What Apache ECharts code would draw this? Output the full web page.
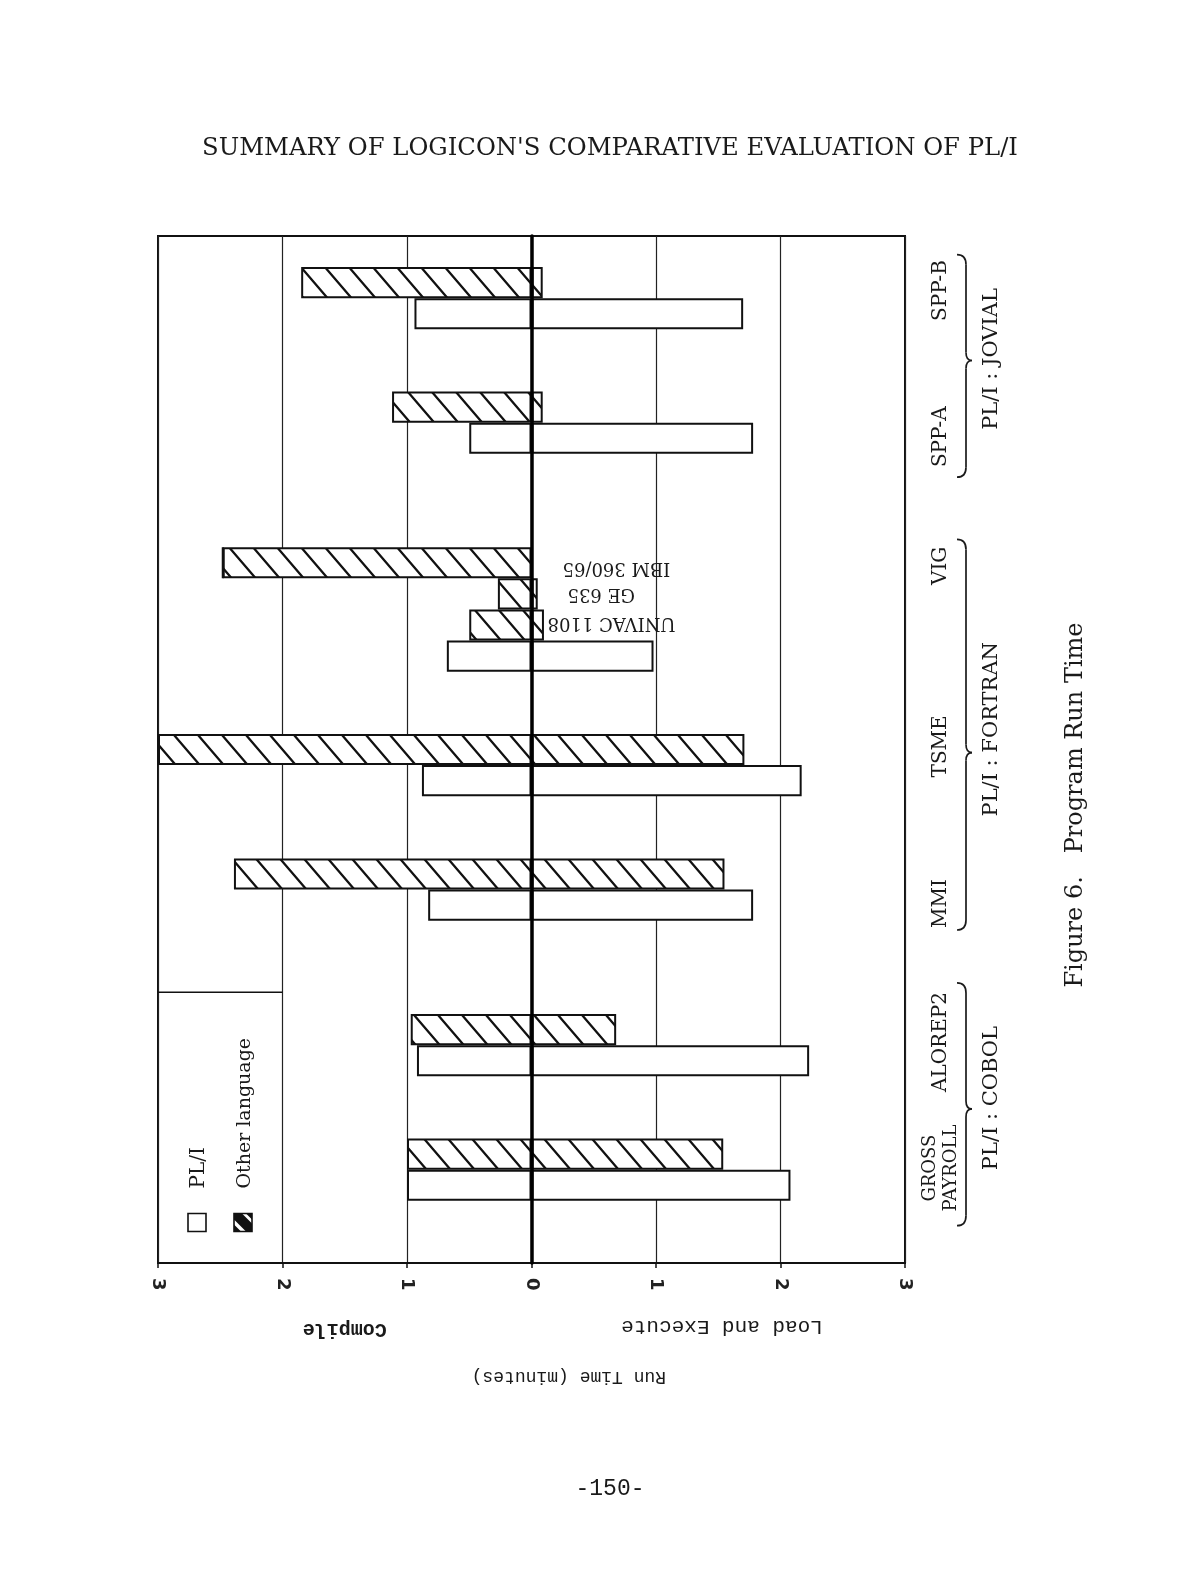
<!DOCTYPE html>
<html>
<head>
    <meta charset="utf-8">
    <title>Figure 6. Program Run Time</title>
    <script src="https://cdn.jsdelivr.net/npm/echarts@6/dist/echarts.min.js"></script>
</head>
<body style="margin: 0; background: #fff">
<div id="container" style="width: 1178px; height: 1587px"></div>
<script>
    // rows of the chart from top to bottom, gapN rows are empty spacers
    var rowKeys = [
        'gap0', 'SPP-B:other', 'SPP-B:PL/I', 'gap1', 'gap2',
        'SPP-A:other', 'SPP-A:PL/I', 'gap3', 'gap4', 'gap5',
        'VIG:IBM 360/65', 'VIG:GE 635', 'VIG:UNIVAC 1108', 'VIG:PL/I', 'gap6', 'gap7',
        'TSME:other', 'TSME:PL/I', 'gap8', 'gap9',
        'MMI:other', 'MMI:PL/I', 'gap10', 'gap11', 'gap12',
        'ALOREP2:other', 'ALOREP2:PL/I', 'gap13', 'gap14',
        'GROSS PAYROLL:other', 'GROSS PAYROLL:PL/I', 'gap15', 'gap16'
    ];

    // PL/I run times (minutes)
    var plRows = ['SPP-B:PL/I', 'SPP-A:PL/I', 'VIG:PL/I', 'TSME:PL/I', 'MMI:PL/I', 'ALOREP2:PL/I', 'GROSS PAYROLL:PL/I'];
    var plCompile = [0.94, 0.50, 0.68, 0.88, 0.83, 0.92, 1.00];
    var plExecute = [1.70, 1.78, 0.98, 2.17, 1.78, 2.23, 2.08];

    // other language run times (minutes)
    var otherRows = ['SPP-B:other', 'SPP-A:other', 'VIG:IBM 360/65', 'VIG:GE 635', 'VIG:UNIVAC 1108',
        'TSME:other', 'MMI:other', 'ALOREP2:other', 'GROSS PAYROLL:other'];
    var otherCompile = [1.85, 1.12, 2.48, 0.27, 0.50, 3.00, 2.39, 0.97, 1.00];
    var otherExecute = [0.09, 0.09, 0.00, 0.05, 0.10, 1.71, 1.55, 0.68, 1.54];

    var machineRows = ['VIG:IBM 360/65', 'VIG:GE 635', 'VIG:UNIVAC 1108'];
    var machineNames = ['IBM 360/65', 'GE 635', 'UNIVAC 1108'];

    var programNames = ['SPP-B', 'SPP-A', 'VIG', 'TSME', 'MMI', 'ALOREP2', 'GROSS\nPAYROLL'];
    var languageNames = ['PL/I : JOVIAL', 'PL/I : FORTRAN', 'PL/I : COBOL'];

    var SERIF = 'DejaVu Serif';
    var MONO = 'Liberation Mono';

    // diagonal hatching for the "other language" bars
    function makeHatch() {
        var w = 24, h = 28;
        var c = document.createElement('canvas');
        c.width = w; c.height = h;
        var g = c.getContext('2d');
        g.fillStyle = '#fff';
        g.fillRect(0, 0, w, h);
        g.strokeStyle = '#111';
        g.lineWidth = 2.3;
        g.beginPath();
        g.moveTo(-w * 0.1, -h * 0.1); g.lineTo(w * 1.1, h * 1.1);
        g.moveTo(-w * 0.1, h * 0.9); g.lineTo(w * 0.1, h * 1.1);
        g.moveTo(w * 0.9, -h * 0.1); g.lineTo(w * 1.1, h * 0.1);
        g.stroke();
        return c;
    }
    var hatch = {image: makeHatch(), repeat: 'repeat'};

    function rowData(keys, vals, sign) {
        return rowKeys.map(function (k) {
            var i = keys.indexOf(k);
            return i < 0 ? '-' : sign * vals[i];
        });
    }

    var plStyle = {color: '#fff', borderColor: '#111', borderWidth: 2};
    var otherStyle = {color: hatch, borderColor: '#111', borderWidth: 2};

    var myChart = echarts.init(document.getElementById('container'));

    var option = {
        backgroundColor: '#fff',
        animation: false,
        grid: {
            left: 158, top: 236, width: 747, height: 1027,
            show: true, borderColor: '#111', borderWidth: 2,
            backgroundColor: 'transparent',
            outerBoundsMode: 'none'
        },
        xAxis: {
            type: 'value',
            min: -3, max: 3, interval: 1,
            axisLine: {show: true, lineStyle: {color: '#111', width: 2}},
            axisTick: {show: true, length: 5, lineStyle: {color: '#111', width: 1.5}},
            splitLine: {show: true, lineStyle: {color: '#222', width: 1.2}},
            axisLabel: {
                rotate: -90, margin: 15,
                fontFamily: 'DejaVu Sans', fontSize: 18, fontWeight: 'bold', color: '#222',
                formatter: function (v) { return Math.abs(v); }
            }
        },
        yAxis: {
            type: 'category',
            inverse: true,
            data: rowKeys,
            z: 10,
            axisLine: {show: true, onZero: true, lineStyle: {color: '#000', width: 3.5}},
            axisTick: {show: false},
            axisLabel: {show: false},
            splitLine: {show: false}
        },
        series: [
            {name: 'PL/I compile', type: 'bar', stack: 'run', barCategoryGap: '0%',
                data: rowData(plRows, plCompile, -1), itemStyle: plStyle},
            {name: 'PL/I load and execute', type: 'bar', stack: 'run',
                data: rowData(plRows, plExecute, 1), itemStyle: plStyle},
            {name: 'Other compile', type: 'bar', stack: 'run',
                data: rowData(otherRows, otherCompile, -1), itemStyle: otherStyle},
            {name: 'Other load and execute', type: 'bar', stack: 'run',
                data: rowData(otherRows, otherExecute, 1), itemStyle: otherStyle}
        ]
    };

    myChart.setOption(option);

    // ---- annotations placed from the axes ----
    function xPx(v) { return myChart.convertToPixel({xAxisIndex: 0}, v); }
    var r0 = myChart.convertToPixel({yAxisIndex: 0}, rowKeys[0]);
    var r1 = myChart.convertToPixel({yAxisIndex: 0}, rowKeys[1]);
    var slot = r1 - r0;
    // f counts rows from the top edge of the plot
    function rowPx(f) { return r0 + (f - 0.5) * slot; }
    function rowCenter(key) { return myChart.convertToPixel({yAxisIndex: 0}, key); }

    function text(x, y, str, font, rot, align, extra) {
        var st = {text: str, font: font, fill: '#1a1a1a', align: align || 'center', verticalAlign: 'middle'};
        if (extra) { for (var k in extra) st[k] = extra[k]; }
        return {type: 'text', x: x, y: y, rotation: rot || 0, style: st, z: 20};
    }

    var ink = {stroke: '#1a1a1a', lineWidth: 1.7, fill: null};
    function curve(x1, y1, cx, cy, x2, y2) {
        return {type: 'bezierCurve', shape: {x1: x1, y1: y1, cpx1: cx, cpy1: cy, x2: x2, y2: y2}, style: ink, z: 20};
    }
    function seg(x1, y1, x2, y2) {
        return {type: 'line', shape: {x1: x1, y1: y1, x2: x2, y2: y2}, style: ink, z: 20};
    }
    // a "}" brace drawn from pieces
    function brace(list, x, y1, ym, y2) {
        list.push(curve(x - 9, y1, x, y1, x, y1 + 10));
        list.push(seg(x, y1 + 10, x, ym - 8));
        list.push(curve(x, ym - 8, x, ym, x + 6, ym));
        list.push(curve(x + 6, ym, x, ym, x, ym + 8));
        list.push(seg(x, ym + 8, x, y2 - 10));
        list.push(curve(x, y2 - 10, x, y2, x - 9, y2));
    }

    var left = xPx(-3), right = xPx(3), zero = xPx(0);
    var up = Math.PI / 2;
    var labX = right + 36, braceX = right + 61, langX = right + 87;

    // program label centres, in rows from the plot top
    var programAt = [1.75, 6.45, 10.6, 16.4, 21.45, 25.9, 29.95];
    var langAt = [3.95, 15.85, 27.7];
    var braceSpan = [[0.6, 4.0, 7.75], [9.75, 16.6, 22.3], [24.0, 28.05, 31.8]];

    var g = [];
    g.push(text(610, 149, "SUMMARY OF LOGICON'S COMPARATIVE EVALUATION OF PL/I", '24.3px ' + SERIF));

    programNames.forEach(function (p, i) {
        if (p.indexOf('\n') >= 0) {
            g.push(text(labX, rowPx(programAt[i]), p, '18px ' + SERIF, up, 'center', {lineHeight: 21}));
        } else {
            g.push(text(labX, rowPx(programAt[i]), p, '20px ' + SERIF, up));
        }
    });
    languageNames.forEach(function (l, i) {
        g.push(text(langX, rowPx(langAt[i]), l, '21px ' + SERIF, up));
        brace(g, braceX, rowPx(braceSpan[i][0]), rowPx(braceSpan[i][1]), rowPx(braceSpan[i][2]));
    });

    // machine names beside the VIG bars (upside down as on the page)
    var machineShift = [[31, 5], [36, 0], [16, -2]];
    machineNames.forEach(function (m, i) {
        g.push(text(zero + machineShift[i][0], rowCenter(machineRows[i]) + machineShift[i][1], m,
            '18px ' + SERIF, Math.PI, 'right'));
    });

    // axis captions
    var capY = rowPx(33) + 66;
    g.push(text(xPx(-1.5), capY, 'Compile', 'bold 20px ' + MONO, Math.PI));
    g.push(text(xPx(1.53), capY - 2, 'Load and Execute', '21px ' + MONO, Math.PI));
    g.push(text(xPx(0.3), capY + 48, 'Run Time (minutes)', '18px ' + MONO, Math.PI));

    // legend box in the lower left corner of the plot
    var boxY = rowPx(24.3);
    g.push({type: 'line', shape: {x1: left, y1: boxY, x2: xPx(-2), y2: boxY},
        style: {stroke: '#111', lineWidth: 1.5}, z: 20});
    var icoY = rowPx(31.7);
    g.push({type: 'rect', shape: {x: left + 30, y: icoY - 9, width: 18, height: 18},
        style: {fill: '#fff', stroke: '#111', lineWidth: 1.6}, z: 20});
    g.push({type: 'rect', shape: {x: left + 76, y: icoY - 9, width: 18, height: 18},
        style: {fill: '#fff', stroke: '#111', lineWidth: 1.6}, z: 20});
    g.push({type: 'polygon', shape: {points: [[left + 76, icoY - 9], [left + 84, icoY - 9], [left + 94, icoY + 1], [left + 94, icoY + 9], [left + 88, icoY + 9], [left + 76, icoY - 3]]},
        style: {fill: '#111'}, z: 21});
    g.push({type: 'polygon', shape: {points: [[left + 76, icoY + 2], [left + 83, icoY + 9], [left + 76, icoY + 9]]},
        style: {fill: '#111'}, z: 21});
    g.push({type: 'polygon', shape: {points: [[left + 88, icoY - 9], [left + 94, icoY - 9], [left + 94, icoY - 3]]},
        style: {fill: '#111'}, z: 21});
    g.push(text(left + 41, icoY - 34, 'PL/I', '20px ' + SERIF, up, 'left'));
    g.push(text(left + 87, icoY - 34, 'Other language', '19px ' + SERIF, up, 'left'));

    g.push(text(1076, 805, 'Figure 6.   Program Run Time', '24px ' + SERIF, up));
    g.push(text(610, 1489, '-150-', '23px ' + MONO));

    myChart.setOption({graphic: g});
</script>
</body>
</html>
